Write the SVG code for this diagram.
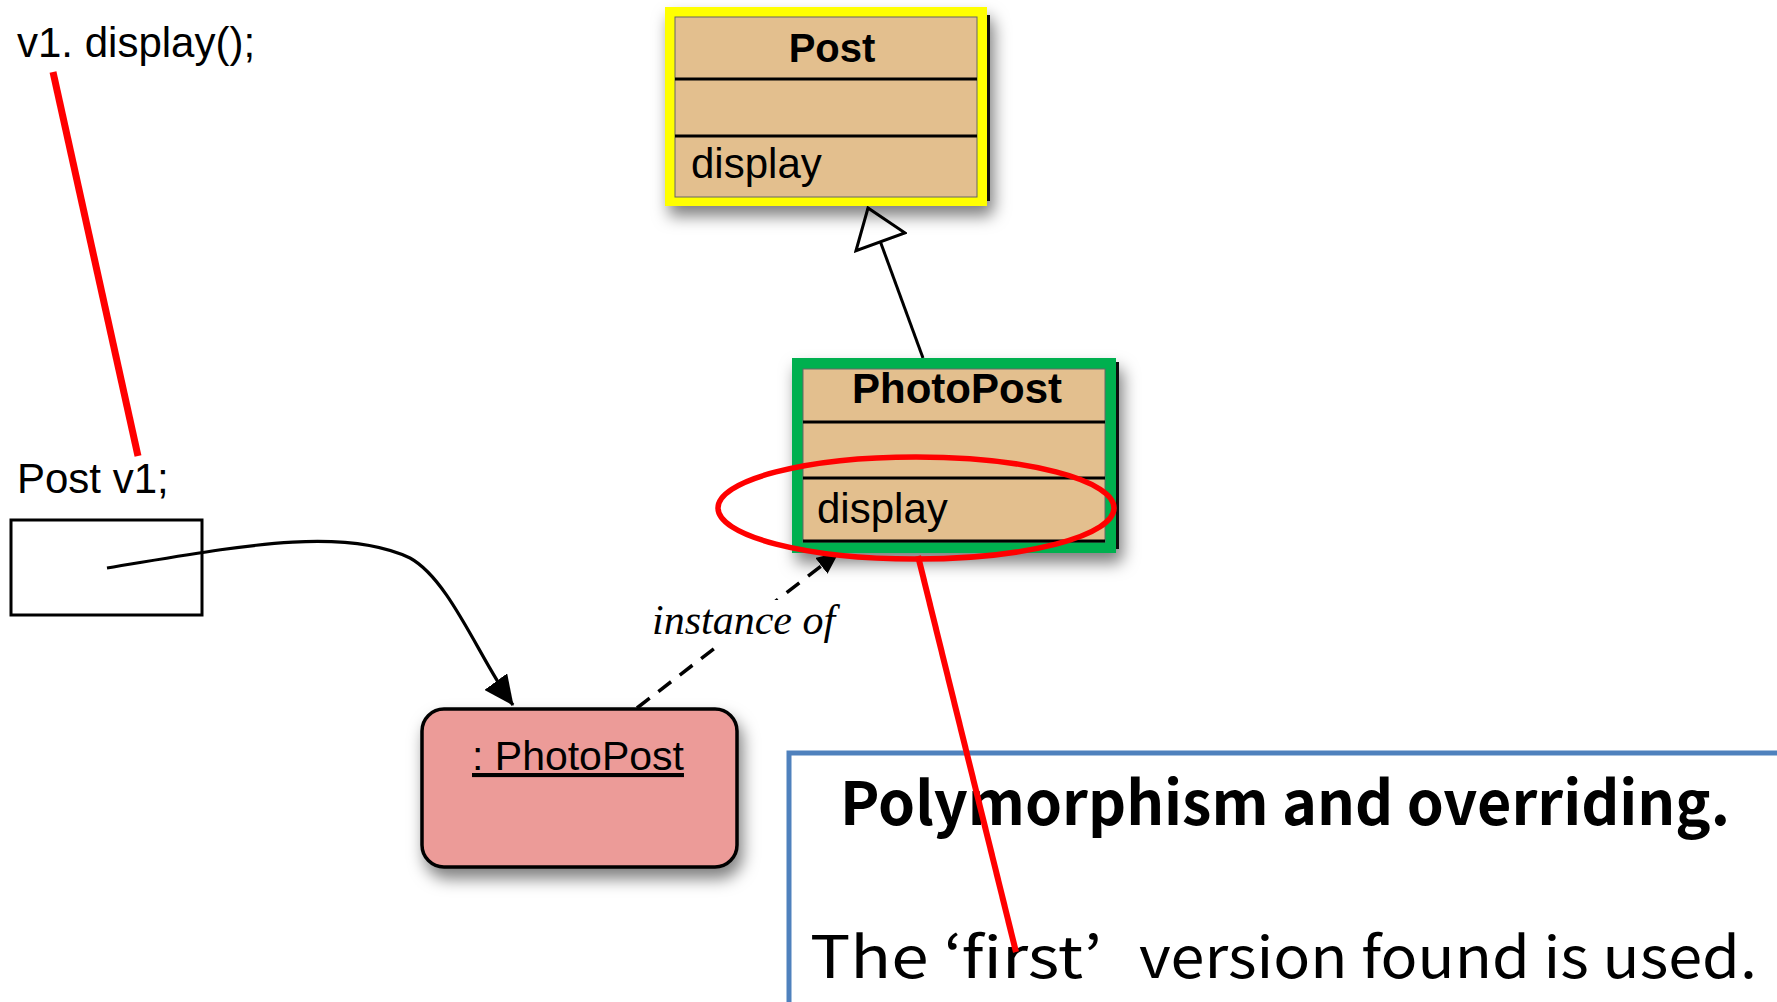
<svg xmlns="http://www.w3.org/2000/svg" width="1777" height="1002" viewBox="0 0 1777 1002">
<style>
.sans{font-family:"Liberation Sans",Arial,sans-serif;fill:#000}
.title{font-weight:bold;font-size:40px;text-anchor:middle}
.op{font-size:42px}
.code{font-size:42px}
.div{stroke:#000;stroke-width:3}
.tan{fill:#E3BF8E;stroke:#666;stroke-width:1}
.red{stroke:#FF0000;fill:none}
.note{font-family:"Noto Sans CJK KR","Noto Sans",sans-serif;fill:#000}
</style>
<defs>
<filter id="shadow" x="-20%" y="-20%" width="150%" height="160%">
<feDropShadow dx="4" dy="10" stdDeviation="8" flood-color="#000" flood-opacity="0.5"/>
</filter>
<marker id="hollow" markerUnits="userSpaceOnUse" viewBox="-2 -2 40 56" markerWidth="40" markerHeight="56" refX="36" refY="26" orient="auto">
<path d="M0,0 L36,26 L0,52 Z" fill="#fff" stroke="#000" stroke-width="3" stroke-linejoin="miter"/>
</marker>
<marker id="filled" markerUnits="userSpaceOnUse" viewBox="0 0 30 28" markerWidth="30" markerHeight="28" refX="29" refY="14" orient="auto">
<path d="M0,0 L30,14 L0,28 Z" fill="#000"/>
</marker>
<marker id="small" markerUnits="userSpaceOnUse" viewBox="0 0 22 20" markerWidth="22" markerHeight="20" refX="21" refY="10" orient="auto">
<path d="M0,0 L22,10 L0,20 Z" fill="#000"/>
</marker>
</defs>
<rect width="1777" height="1002" fill="#fff"/>

<g id="code-call">
<text class="sans code" x="17" y="57">v1. display();</text>
</g>

<g id="variable-v1">
<text class="sans code" x="17" y="493">Post v1;</text>
<rect x="11" y="520" width="191" height="95" fill="none" stroke="#000" stroke-width="3"/>
</g>

<g id="connectors" fill="none" stroke="#000">
<path d="M107,568 C230,548 340,525 410,558 C450,580 480,660 513,705" stroke-width="3.2" marker-end="url(#filled)"/>
<path d="M923,358 L868,208" stroke-width="3" marker-end="url(#hollow)"/>
<path d="M637,708 L838,553" stroke-width="3.5" stroke-dasharray="16,11" marker-end="url(#small)"/>
<rect x="650" y="600" width="195" height="44" fill="#fff" stroke="none"/>
<text x="652" y="634" style="font-family:'Liberation Serif','Times New Roman',serif;font-style:italic;font-size:42px;fill:#000;stroke:none">instance of</text>
</g>

<g id="class-post">
<g filter="url(#shadow)">
<rect x="668" y="15" width="322" height="186" fill="#111"/>
<rect x="665" y="7" width="322" height="199" fill="#FFFF00"/>
</g>
<rect class="tan" x="675" y="17" width="302" height="180"/>
<line class="div" x1="675" y1="79" x2="977" y2="79"/>
<line class="div" x1="675" y1="136" x2="977" y2="136"/>
<text class="sans title" x="832" y="62">Post</text>
<text class="sans op" x="691" y="178">display</text>
</g>

<g id="class-photopost">
<g filter="url(#shadow)">
<rect x="795" y="362" width="324" height="187" fill="#111"/>
<rect x="792" y="358" width="324" height="195" fill="#00B050"/>
</g>
<rect class="tan" x="803" y="369" width="302" height="173"/>
<line class="div" x1="803" y1="422" x2="1105" y2="422"/>
<line class="div" x1="803" y1="478" x2="1105" y2="478"/>
<line class="div" x1="803" y1="541" x2="1105" y2="541"/>
<text class="sans title" x="957" y="403" style="font-size:42px">PhotoPost</text>
<text class="sans op" x="817" y="523">display</text>
</g>

<g id="object-photopost">
<rect x="422" y="709" width="315" height="158" rx="22" fill="#EC9B98" stroke="#000" stroke-width="3.5" filter="url(#shadow)"/>
<text class="sans" x="472" y="770" style="font-size:41px" text-decoration="underline">: PhotoPost</text>
</g>

<g id="note">
<rect x="789" y="753" width="1100" height="400" fill="#fff" stroke="#4F81BD" stroke-width="5"/>
<text class="note" x="840" y="825" font-weight="bold" font-size="60" textLength="890" lengthAdjust="spacingAndGlyphs">Polymorphism and overriding.</text>
<text class="note" x="810" y="978" font-size="58"><tspan textLength="292" lengthAdjust="spacingAndGlyphs">The ‘first’</tspan> <tspan x="1139" textLength="618" lengthAdjust="spacingAndGlyphs">version found is used.</tspan></text>
</g>

<g id="annotations">
<line class="red" x1="53" y1="72" x2="138" y2="456" stroke-width="7"/>
<ellipse class="red" cx="916" cy="508" rx="198" ry="51" stroke-width="5.5"/>
<line class="red" x1="918" y1="556" x2="1016" y2="952" stroke-width="6"/>
</g>
</svg>
